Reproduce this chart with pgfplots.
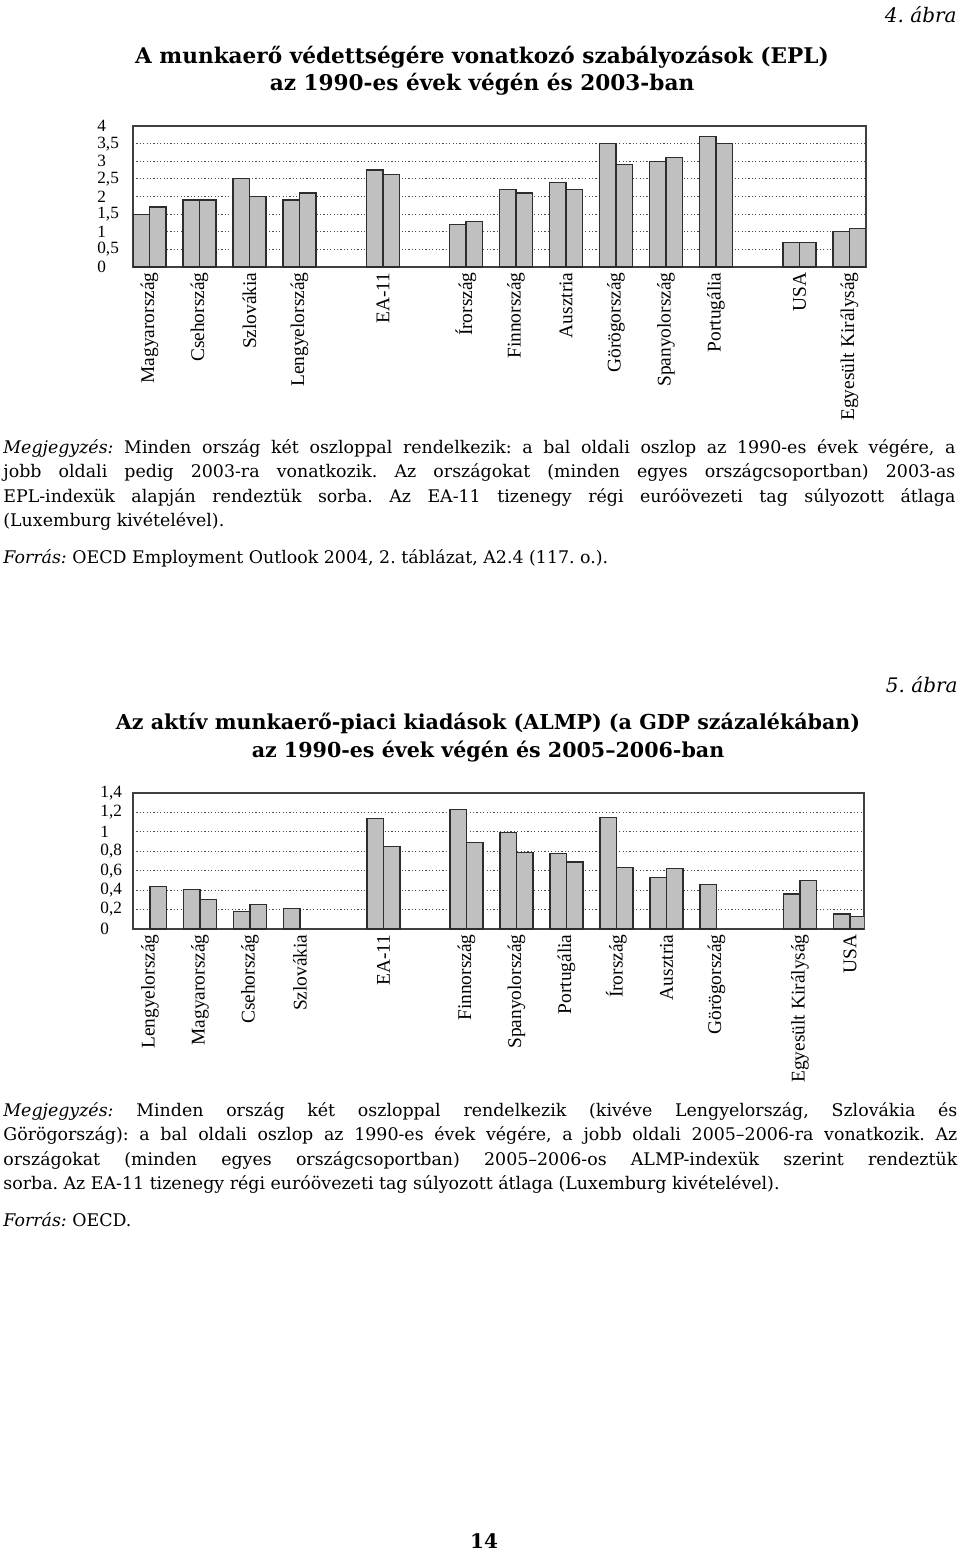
\documentclass[border=0pt]{standalone}
\usepackage{fontspec}
\usepackage{pgfplots}
\pgfplotsset{compat=1.18}
\setmainfont{DejaVu Serif}
\newfontfamily\tnr{Liberation Serif}

\definecolor{barfill}{RGB}{192,192,192}
\definecolor{bardraw}{RGB}{45,45,45}

\newcommand{\bodyfont}{\fontsize{8.7}{12.25}\selectfont}
\newcommand{\titlefontA}{\fontsize{10.8}{14}\selectfont\bfseries}
\newcommand{\titlefontB}{\fontsize{10.3}{14}\selectfont\bfseries}

\pgfplotsset{
  epl/.style={
    scale only axis,
    anchor=south west,
    enlargelimits=false,
    axis line style={draw=black!75, line width=0.8pt},
    ymajorgrids,
    grid style={black!70, line width=0.55pt, dash pattern=on 0.6pt off 1.1pt},
    major tick length=0pt,
    xtick style={draw=none}, ytick style={draw=none},
    x tick label style={rotate=90, anchor=east, inner sep=2.5pt, font=\tnr\fontsize{9.7}{10}\selectfont},
    y tick label style={anchor=west, inner sep=0pt, font=\tnr\fontsize{8.6}{9}\selectfont},
  },
  bar1/.style={ybar, bar width=0.33, bar shift=-0.165, fill=barfill, draw=bardraw, line width=0.6pt},
  bar2/.style={ybar, bar width=0.33, bar shift=0.165, fill=barfill, draw=bardraw, line width=0.6pt},
}

\begin{document}
\hyphenpenalty=10000 \exhyphenpenalty=10000 \frenchspacing
\begin{tikzpicture}
\path[use as bounding box] (0,0) rectangle (480pt,-777pt);

% 4. abra
\node[anchor=base east, inner sep=0] at (478.5pt,-11pt) {\fontsize{10}{12}\selectfont\itshape 4. ábra};
\node[anchor=base, inner sep=0] at (241pt,-31.5pt) {\titlefontA A munkaerő védettségére vonatkozó szabályozások (EPL)};
\node[anchor=base, inner sep=0] at (241pt,-45pt) {\titlefontA az 1990-es évek végén és 2003-ban};

\begin{axis}[epl,
  at={(66.5pt,-133.5pt)}, width=366.5pt, height=70.5pt,
  xmin=-0.33, xmax=14.33, ymin=0, ymax=4,
  xtick={0,1,2,3,4.67,6.33,7.33,8.33,9.33,10.33,11.33,13,14},
  xticklabels={Magyarország,Csehország,Szlovákia,Lengyelország,EA-11,Írország,Finnország,Ausztria,Görögország,Spanyolország,Portugália,USA,Egyesült Királyság},
  ytick={0,0.5,1,1.5,2,2.5,3,3.5,4},
  yticklabels={0,{0,5},1,{1,5},2,{2,5},3,{3,5},4},
  y tick label style={xshift=-18pt},
]
\addplot[bar1] coordinates {
  (0,1.5)(1,1.9)(2,2.5)(3,1.9)(4.67,2.75)(6.33,1.2)(7.33,2.2)(8.33,2.4)(9.33,3.5)(10.33,3.0)(11.33,3.7)(13,0.7)(14,1.0)
};
\addplot[bar2] coordinates {
  (0,1.7)(1,1.9)(2,2.0)(3,2.1)(4.67,2.62)(6.33,1.3)(7.33,2.1)(8.33,2.2)(9.33,2.9)(10.33,3.1)(11.33,3.5)(13,0.7)(14,1.1)
};
\end{axis}

\node[anchor=base west, inner sep=0] at (1.5pt,-226.5pt) {\parbox[t]{476pt}{\bodyfont
\textit{Megjegyzés:} Minden ország két oszloppal rendelkezik: a bal oldali oszlop az 1990-es évek végére, a\linebreak
jobb oldali pedig 2003-ra vonatkozik. Az országokat (minden egyes országcsoportban) 2003-as\linebreak
EPL-indexük alapján rendeztük sorba. Az EA-11 tizenegy régi euróövezeti tag súlyozott átlaga\linebreak
(Luxemburg kivételével).}};
\node[anchor=base west, inner sep=0] at (1.5pt,-281.5pt) {\bodyfont\textit{Forrás:} OECD Employment Outlook 2004, 2. táblázat, A2.4 (117. o.).};

% 5. abra
\node[anchor=base east, inner sep=0] at (479pt,-346pt) {\fontsize{10}{12}\selectfont\itshape 5. ábra};
\node[anchor=base, inner sep=0] at (244pt,-364.5pt) {\titlefontB Az aktív munkaerő-piaci kiadások (ALMP) (a GDP százalékában)};
\node[anchor=base, inner sep=0] at (244pt,-378.5pt) {\titlefontB az 1990-es évek végén és 2005–2006-ban};

\begin{axis}[epl,
  at={(66.5pt,-464.5pt)}, width=365.5pt, height=68pt,
  xmin=-0.34, xmax=14.28, ymin=0, ymax=1.4,
  xtick={0,1,2,3,4.67,6.33,7.33,8.33,9.33,10.33,11.33,13,14},
  xticklabels={Lengyelország,Magyarország,Csehország,Szlovákia,EA-11,Finnország,Spanyolország,Portugália,Írország,Ausztria,Görögország,Egyesült Királyság,USA},
  ytick={0,0.2,0.4,0.6,0.8,1,1.2,1.4},
  yticklabels={0,{0,2},{0,4},{0,6},{0,8},1,{1,2},{1,4}},
  y tick label style={xshift=-16.5pt},
]
\addplot[bar1] coordinates {
  (1,0.41)(2,0.18)(3,0.21)(4.67,1.14)(6.33,1.23)(7.33,0.99)(8.33,0.78)(9.33,1.15)(10.33,0.53)(11.33,0.46)(13,0.36)(14,0.155)
};
\addplot[bar2] coordinates {
  (0,0.44)(1,0.30)(2,0.25)(4.67,0.85)(6.33,0.89)(7.33,0.79)(8.33,0.69)(9.33,0.635)(10.33,0.62)(13,0.50)(14,0.13)
};
\end{axis}

\node[anchor=base west, inner sep=0] at (1.5pt,-558pt) {\parbox[t]{477pt}{\bodyfont
\textit{Megjegyzés:} Minden ország két oszloppal rendelkezik (kivéve Lengyelország, Szlovákia és\linebreak
Görögország): a bal oldali oszlop az 1990-es évek végére, a jobb oldali 2005–2006-ra vonatkozik. Az\linebreak
országokat (minden egyes országcsoportban) 2005–2006-os ALMP-indexük szerint rendeztük\linebreak
sorba. Az EA-11 tizenegy régi euróövezeti tag súlyozott átlaga (Luxemburg kivételével).}};
\node[anchor=base west, inner sep=0] at (1.5pt,-613pt) {\bodyfont\textit{Forrás:} OECD.};

\node[anchor=base, inner sep=0] at (242pt,-774pt) {\fontsize{10}{12}\selectfont\bfseries 14};
\end{tikzpicture}
\end{document}
